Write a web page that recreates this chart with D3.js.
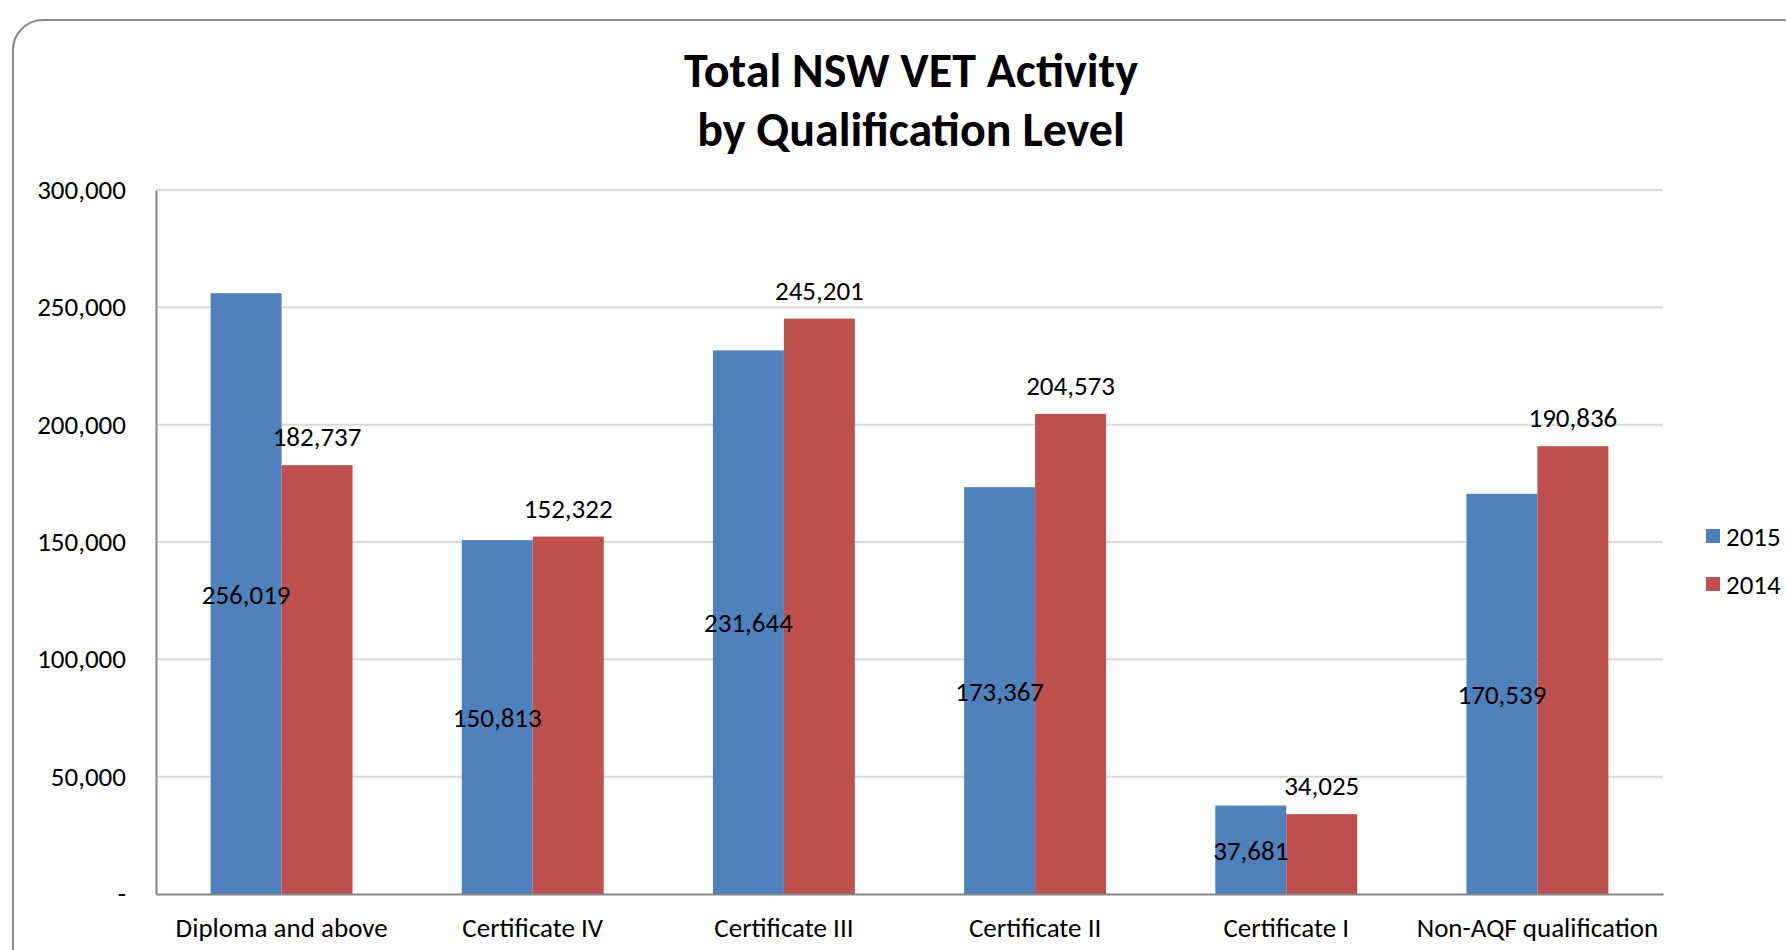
<!DOCTYPE html>
<html>
<head>
<meta charset="utf-8">
<script src="https://cdn.jsdelivr.net/npm/d3@7"></script>
<style>
    body { margin: 0; background: #fff; }
    svg text { font-family: Carlito, Calibri, 'Open Sans', sans-serif; fill: #000; }
</style>
</head>
<body>
<svg id="chart" width="1786" height="950"></svg>
<script>
const categories = ['Diploma and above', 'Certificate IV', 'Certificate III', 'Certificate II', 'Certificate I', 'Non-AQF qualification'];
const seriesNames = ['2015', '2014'];
const values2015 = [256019, 150813, 231644, 173367, 37681, 170539];
const values2014 = [182737, 152322, 245201, 204573, 34025, 190836];
const yTicks = [0, 50000, 100000, 150000, 200000, 250000, 300000];
const colors = ['#4f81bd', '#c0504d'];

const svg = d3.select('#chart');

const margin = { top: 190, right: 123, bottom: 56, left: 156 };
const width = 1786 - margin.left - margin.right;
const height = 950 - margin.top - margin.bottom;

// outer rounded frame
svg.append('rect')
    .attr('x', 13)
    .attr('y', 20)
    .attr('width', 1800)
    .attr('height', 960)
    .attr('rx', 30)
    .attr('fill', 'none')
    .attr('stroke', '#888')
    .attr('stroke-width', 2);

svg.append('text')
    .attr('x', 911)
    .attr('y', 87)
    .attr('text-anchor', 'middle')
    .style('font-size', '48px')
    .style('font-weight', 'bold')
    .text('Total NSW VET Activity');

svg.append('text')
    .attr('x', 911)
    .attr('y', 146)
    .attr('text-anchor', 'middle')
    .style('font-size', '48px')
    .style('font-weight', 'bold')
    .text('by Qualification Level');

const g = svg.append('g')
    .attr('transform', `translate(${margin.left},${margin.top})`);

const x = d3.scaleBand()
    .domain(categories)
    .range([0, width])
    .paddingInner(0.435)
    .paddingOuter(0.2175);

const xInner = d3.scaleBand()
    .domain(seriesNames)
    .range([0, x.bandwidth()]);

const y = d3.scaleLinear()
    .domain([0, 300000])
    .range([height, 0]);

// gridlines
g.append('g')
    .selectAll('line')
    .data(yTicks.slice(1))
    .enter()
    .append('line')
    .attr('x1', 0)
    .attr('x2', width)
    .attr('y1', d => y(d))
    .attr('y2', d => y(d))
    .attr('stroke', '#d9d9d9')
    .attr('stroke-width', 2);

const yAxis = g.append('g')
    .call(d3.axisLeft(y).tickValues(yTicks).tickSize(0).tickPadding(30)
        .tickFormat(d => d === 0 ? '-' : d3.format(',')(d)));
yAxis.select('.domain').attr('stroke', '#868686').attr('stroke-width', 2);
yAxis.selectAll('text').style('font-size', '27px');

const series = [values2015, values2014];

const groups = g.append('g')
    .selectAll('g')
    .data(categories)
    .enter()
    .append('g')
    .attr('transform', d => `translate(${x(d)},0)`);

groups.selectAll('rect')
    .data((d, i) => seriesNames.map((s, j) => ({ key: s, value: series[j][i], idx: j })))
    .enter()
    .append('rect')
    .attr('x', d => xInner(d.key))
    .attr('y', d => y(d.value))
    .attr('width', xInner.bandwidth())
    .attr('height', d => height - y(d.value))
    .attr('fill', d => colors[d.idx]);

// value labels: 2015 inside middle, 2014 above
groups.selectAll('text.value')
    .data((d, i) => seriesNames.map((s, j) => ({ key: s, value: series[j][i], idx: j })))
    .enter()
    .append('text')
    .attr('class', 'value')
    .attr('x', d => xInner(d.key) + xInner.bandwidth() / 2)
    .attr('y', d => d.idx === 0 ? (y(d.value) + height) / 2 + 10 : y(d.value) - 19)
    .attr('text-anchor', 'middle')
    .style('font-size', '27px')
    .text(d => d3.format(',')(d.value));

const xAxis = g.append('g')
    .attr('transform', `translate(0,${height})`)
    .call(d3.axisBottom(x).tickSize(0).tickPadding(24));
xAxis.select('.domain').attr('stroke', '#868686').attr('stroke-width', 2);
xAxis.selectAll('text').style('font-size', '27px');

// legend
const legend = svg.append('g')
    .attr('transform', 'translate(1706,536)');

legend.selectAll('rect')
    .data(seriesNames)
    .enter()
    .append('rect')
    .attr('x', 0)
    .attr('y', (d, i) => i * 48 - 7)
    .attr('width', 14)
    .attr('height', 14)
    .attr('fill', (d, i) => colors[i]);

legend.selectAll('text')
    .data(seriesNames)
    .enter()
    .append('text')
    .attr('x', 20)
    .attr('y', (d, i) => i * 48 + 10)
    .style('font-size', '27px')
    .text(d => d);
</script>
</body>
</html>
